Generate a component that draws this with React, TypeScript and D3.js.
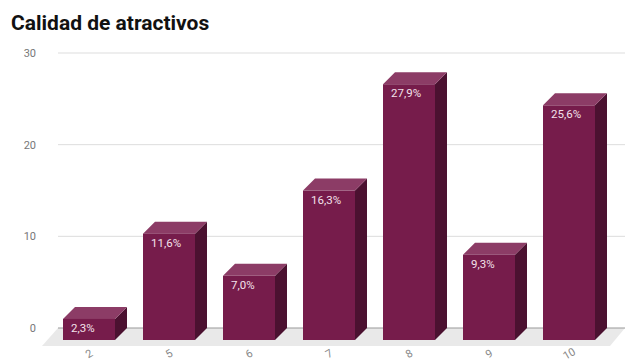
import React from 'react';
import * as d3 from 'd3';

const categories = ['2', '5', '6', '7', '8', '9', '10'];
const values = [2.3, 11.6, 7.0, 16.3, 27.9, 9.3, 25.6];
const labels = ['2,3%', '11,6%', '7,0%', '16,3%', '27,9%', '9,3%', '25,6%'];
const yTicks = [0, 10, 20, 30];
const title = 'Calidad de atractivos';

const W = 625;
const H = 364;
const D = 12; // 3D depth offset

export default function App() {
  const x = d3.scaleBand<string>().domain(categories).range([61, 621]).paddingInner(0.35).paddingOuter(0.175);
  const y = d3.scaleLinear().domain([0, 30]).range([328, 53]);
  const bw = x.bandwidth();
  const front = '#761c4b';
  const side = '#4b1130';
  const top = '#8c3c66';
  const y0 = y(0);

  return (
    <svg width={W} height={H} style={{ position: 'absolute', left: 0, top: 0, background: '#fff' }} fontFamily="Roboto, 'Noto Sans', sans-serif">
      <text x={11} y={30} fontSize={21} fontWeight="bold" fill="#111">{title}</text>
      {/* floor */}
      <path d={`M${58},${y0} L${625},${y0} L${610},${y0 + 18} L${42},${y0 + 18} Z`} fill="#e9e9e9" />
      {yTicks.map((t) => (
        <g key={t}>
          <line x1={58} x2={625} y1={y(t)} y2={y(t)} stroke={t === 0 ? '#999' : '#ddd'} strokeWidth={1} />
          <text x={36} y={y(t) + 4} fontSize={11} fill="#777" textAnchor="end">{t}</text>
        </g>
      ))}
      {categories.map((c, i) => {
        const bx = x(c)!; // back-left
        const by = y(values[i]); // back-top
        const fx = bx - D;
        const fyTop = by + D;
        const fyBot = y0 + D;
        return (
          <g key={c}>
            <path d={`M${fx + bw},${fyTop} L${bx + bw},${by} L${bx + bw},${y0} L${fx + bw},${fyBot} Z`} fill={side} />
            <path d={`M${fx},${fyTop} L${bx},${by} L${bx + bw},${by} L${fx + bw},${fyTop} Z`} fill={top} />
            <rect x={fx} y={fyTop} width={bw} height={fyBot - fyTop} fill={front} />
            <text x={fx + 8} y={fyTop + 13} fontSize={11.5} fill="#f3e1ea">{labels[i]}</text>
            <text transform={`translate(${fx + bw / 2 + 2},${357}) rotate(-30)`} fontSize={11} fill="#888" textAnchor="middle">{c}</text>
          </g>
        );
      })}
    </svg>
  );
}
